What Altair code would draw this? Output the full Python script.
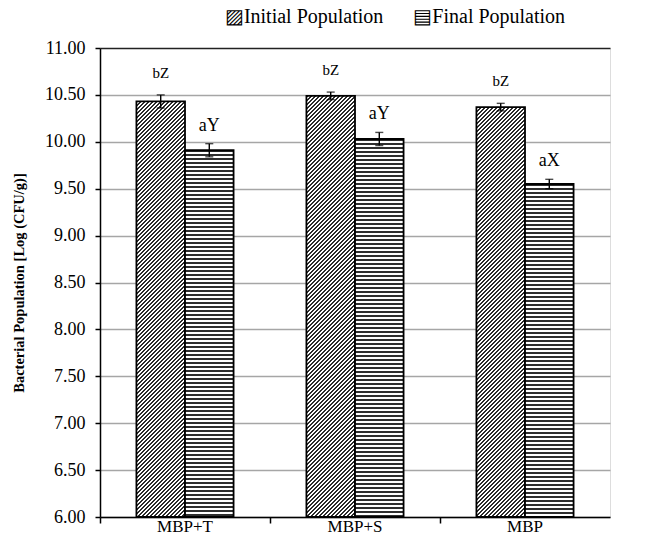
import altair as alt
import pandas as pd

# ---- data ----
treatments = ["MBP+T", "MBP+S", "MBP"]
initial_pop = [10.43, 10.49, 10.37]
initial_err = [0.07, 0.04, 0.04]
initial_lab = ["bZ", "bZ", "bZ"]
final_pop = [9.91, 10.03, 9.55]
final_err = [0.07, 0.07, 0.05]
final_lab = ["aY", "aY", "aX"]
series_names = ["Initial Population", "Final Population"]
y_ticks = [6.0, 6.5, 7.0, 7.5, 8.0, 8.5, 9.0, 9.5, 10.0, 10.5, 11.0]

rows = []
for i, t in enumerate(treatments):
    rows.append({"treatment": t, "series": "Initial", "value": initial_pop[i],
                 "err": initial_err[i], "label": initial_lab[i]})
    rows.append({"treatment": t, "series": "Final", "value": final_pop[i],
                 "err": final_err[i], "label": final_lab[i]})
df = pd.DataFrame(rows)

FONT = "Liberation Serif"
W, H = 510, 469
Y0, Y1 = 6.0, 11.0
BAR_W = W / 3 / 3.5          # width of one bar in px (xOffset step)


# ---- fill patterns built as striped gradients (style only) ----
def stripe_stops(length_px, period_px, frac, dark):
    n = int(length_px / period_px) + 2
    u = period_px / length_px
    stops = []
    for i in range(n):
        a = min(i * u, 1.0)
        b = min((i + frac) * u, 1.0)
        c = min((i + 1) * u, 1.0)
        stops += [{"offset": a, "color": dark}, {"offset": b, "color": dark},
                  {"offset": b, "color": "#ffffff"}, {"offset": c, "color": "#ffffff"}]
        if c >= 1.0:
            break
    return stops


def diag_fill(value):
    h = (value - Y0) / (Y1 - Y0) * H
    w = BAR_W
    lam = (w + h) / (w * w + h * h)
    return {"gradient": "linear", "x1": 0, "y1": 0, "x2": w * lam, "y2": h * lam,
            "stops": stripe_stops(w + h, 4.0, 0.5, "#2a2a2a")}


def horiz_fill(value):
    h = (value - Y0) / (Y1 - Y0) * H
    return {"gradient": "linear", "x1": 0, "y1": 0, "x2": 0, "y2": 1,
            "stops": stripe_stops(h, 4.0, 0.5, "#2e2e2e")}


conds = []
for i, t in enumerate(treatments):
    conds.append({"test": f"datum.treatment === '{t}' && datum.series === 'Initial'",
                  "value": diag_fill(initial_pop[i])})
    conds.append({"test": f"datum.treatment === '{t}' && datum.series === 'Final'",
                  "value": horiz_fill(final_pop[i])})
fill_enc = {"condition": conds[:-1], "value": conds[-1]["value"]}

base = alt.Chart(df).encode(
    x=alt.X("treatment:N", sort=treatments,
            scale=alt.Scale(paddingInner=0, paddingOuter=0),
            axis=alt.Axis(title=None, labelFont=FONT, labelFontSize=17, labelColor="black",
                          labelAngle=0, domainColor="black", domainWidth=1.5,
                          tickColor="black", tickWidth=1.5, tickSize=6,
                          bandPosition=0, labelPadding=-5, grid=False)),
    xOffset=alt.XOffset("series:N", sort=["Initial", "Final"],
                        scale=alt.Scale(domain=["Initial", "Final"], paddingInner=0,
                                        paddingOuter=0.75)),
)

yscale = alt.Scale(domain=[Y0, Y1], nice=False, zero=False)

bars = base.mark_bar(stroke="black", strokeWidth=1.8).encode(
    y=alt.Y("value:Q", scale=yscale,
            axis=alt.Axis(title="Bacterial Population [Log (CFU/g)]", values=y_ticks,
                          format=".2f", labelFont=FONT, labelFontSize=18, labelColor="black",
                          titleFont=FONT, titleFontSize=14.5, titleFontWeight="bold",
                          titleColor="black", titlePadding=18,
                          domainColor="black", domainWidth=1.5, tickColor="black",
                          tickWidth=1.5, tickSize=5, labelPadding=10,
                          gridColor={"condition": {"test": "datum.value === 11", "value": "#222222"},
                                     "value": "#a6a6a6"},
                          gridWidth={"condition": {"test": "datum.value === 11", "value": 1.6},
                                     "value": 1.3})),
    y2=alt.datum(Y0),
    fill=fill_enc,
)

err_rule = base.mark_rule(color="black", strokeWidth=1.4).encode(
    y=alt.Y("lo:Q", scale=yscale), y2="hi:Q"
).transform_calculate(lo="datum.value - datum.err", hi="datum.value + datum.err")

err_top = base.mark_tick(color="black", thickness=1.4, size=8, orient="horizontal").encode(
    y=alt.Y("hi:Q", scale=yscale)
).transform_calculate(hi="datum.value + datum.err")

err_bot = base.mark_tick(color="black", thickness=1.4, size=8, orient="horizontal").encode(
    y=alt.Y("lo:Q", scale=yscale)
).transform_calculate(lo="datum.value - datum.err")

labels_init = base.mark_text(font=FONT, color="black", baseline="middle", dy=-22,
                             fontSize=15).encode(
    y=alt.Y("hi:Q", scale=yscale),
    text="label:N",
).transform_filter("datum.series === 'Initial'").transform_calculate(
    hi="datum.value + datum.err")

labels_final = base.mark_text(font=FONT, color="black", baseline="middle", dy=-18,
                              fontSize=18).encode(
    y=alt.Y("hi:Q", scale=yscale),
    text="label:N",
).transform_filter("datum.series === 'Final'").transform_calculate(
    hi="datum.value + datum.err")

legend_text = "\u25A8" + series_names[0] + "\u2003\u2002" + "\u25A4" + series_names[1]

chart = alt.layer(bars, err_rule, err_top, err_bot, labels_init, labels_final).properties(
    width=W, height=H,
    title=alt.TitleParams(legend_text, font=FONT, fontSize=20, fontWeight="normal",
                          color="black", anchor="middle", dx=40, offset=12),
    autosize=alt.AutoSizeParams(type="none"),
    padding={"left": 100, "top": 48, "right": 36, "bottom": 18},
).configure_view(stroke=None).configure(
    background="white", font=FONT
).configure_axis(labelFont=FONT, titleFont=FONT).configure_title(font=FONT)

chart.save("out.html", embed_options={"renderer": "svg", "actions": False})
